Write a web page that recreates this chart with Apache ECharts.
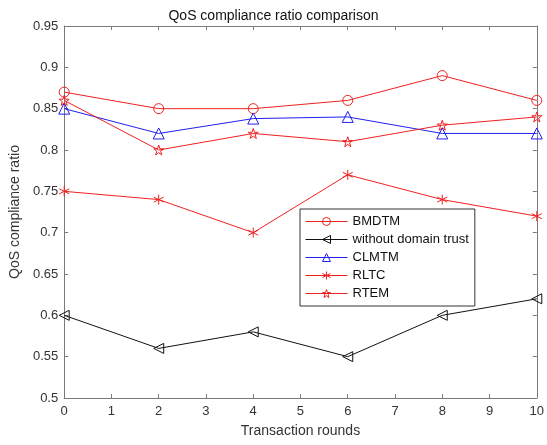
<!DOCTYPE html>
<html>
<head>
<meta charset="utf-8">
<script src="https://cdn.jsdelivr.net/npm/echarts@6/dist/echarts.min.js"></script>
<style>html,body{margin:0;padding:0;background:#fff;}#c{width:547px;height:445px;}</style>
</head>
<body>
<div id="c"></div>
<script>
const rounds = [0, 2, 4, 6, 8, 10];
const bmdtm = [0.87, 0.85, 0.85, 0.86, 0.89, 0.86];
const withoutTrust = [0.60, 0.56, 0.58, 0.55, 0.60, 0.62];
const clmtm = [0.85, 0.82, 0.838, 0.84, 0.82, 0.82];
const rltc = [0.75, 0.74, 0.70, 0.77, 0.74, 0.72];
const rtem = [0.86, 0.80, 0.82, 0.81, 0.83, 0.84];
const seriesNames = ['BMDTM', 'without domain trust', 'CLMTM', 'RLTC', 'RTEM'];

const RED = '#f02020', BLUE = '#2020f0', BLACK = '#111111';
const FONT = '"Liberation Sans", Arial, Helvetica, sans-serif';
const AX = '#7a7a7a', TXT = '#333333';

const asterisk = 'path://M0,-1L0,1M-0.866,-0.5L0.866,0.5M-0.866,0.5L0.866,-0.5';
const pentagram = 'path://M0,-1L0.2245,-0.309L0.951,-0.309L0.3633,0.118L0.5878,0.809L0,0.382L-0.5878,0.809L-0.3633,0.118L-0.951,-0.309L-0.2245,-0.309Z';
const leftTri = 'path://M0,0.5L1,0L1,1Z';

function pairs(v){ return rounds.map((x,i)=>[x, v[i]]); }
function mk(name, data, color, symbol, size){
  return {
    name, type:'line', data: pairs(data), symbol, symbolSize: size,
    lineStyle:{color, width:1}, itemStyle:{color:'rgba(255,255,255,0)', borderColor:color, borderWidth:1},
    color, animation:false, z: 3
  };
}

const chart = echarts.init(document.getElementById('c'), null, {renderer:'canvas'});
const axisCommon = {
  axisLine:{show:true, onZero:false, lineStyle:{color:AX, width:1}},
  axisTick:{show:true, inside:true, length:4, lineStyle:{color:AX}},
  splitLine:{show:false}
};
chart.setOption({
  animation:false,
  backgroundColor:'#fff',
  title:{text:'QoS compliance ratio comparison', left:'center', top:4,
    textStyle:{fontFamily:FONT, fontSize:14, fontWeight:'normal', color:'#111'}},
  grid:{left:64, right:8, top:26, bottom:47},
  legend:{
    orient:'vertical', left:300, top:209, data:seriesNames,
    itemWidth:42, itemHeight:10, itemGap:5, padding:[6,6,6,5],
    borderColor:'#333', borderWidth:1, backgroundColor:'#fff',
    lineStyle:{width:1},
    itemStyle:{color:'rgba(255,255,255,0)', borderWidth:1},
    textStyle:{fontFamily:FONT, fontSize:13, color:'#111'}
  },
  xAxis:[
    Object.assign({type:'value', min:0, max:10, interval:1, position:'bottom',
      name:'Transaction rounds', nameLocation:'middle', nameGap:26,
      nameTextStyle:{fontFamily:FONT, fontSize:14, color:TXT},
      axisLabel:{fontFamily:FONT, fontSize:13, color:TXT, margin:7}}, axisCommon),
    Object.assign({type:'value', min:0, max:10, interval:1, position:'top',
      axisLabel:{show:false}}, axisCommon)
  ],
  yAxis:[
    Object.assign({type:'value', min:0.5, max:0.95, interval:0.05, position:'left',
      name:'QoS compliance ratio', nameLocation:'middle', nameGap:35,
      nameTextStyle:{fontFamily:FONT, fontSize:14, color:TXT},
      axisLabel:{fontFamily:FONT, fontSize:13, color:TXT, margin:6,
        formatter:v=>String(+v.toFixed(2))}}, axisCommon),
    Object.assign({type:'value', min:0.5, max:0.95, interval:0.05, position:'right',
      axisLabel:{show:false}}, axisCommon)
  ],
  series:[
    mk('BMDTM', bmdtm, RED, 'circle', 10),
    mk('without domain trust', withoutTrust, BLACK, leftTri, 10),
    mk('CLMTM', clmtm, BLUE, 'triangle', 11),
    mk('RLTC', rltc, RED, asterisk, 10),
    mk('RTEM', rtem, RED, pentagram, 10)
  ]
});
</script>
</body>
</html>
